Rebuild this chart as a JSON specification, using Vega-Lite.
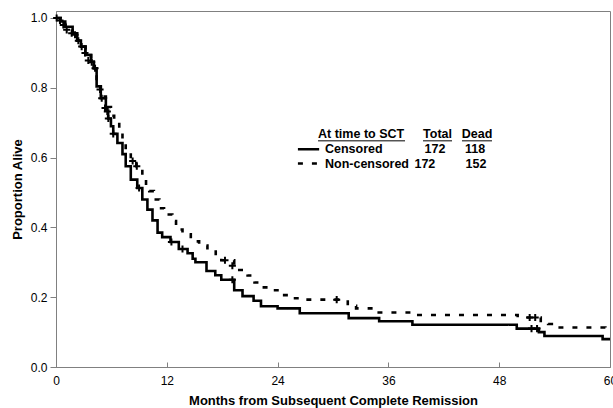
{
  "$schema": "https://vega.github.io/schema/vega-lite/v6.json",
  "width": 554,
  "height": 356,
  "autosize": {"type": "none"},
  "padding": {"left": 56, "top": 11, "right": 3, "bottom": 41},
  "background": "white",
  "config": {
    "font": "Liberation Sans",
    "view": {"stroke": "#808080", "strokeWidth": 1},
    "axis": {
      "grid": false,
      "domainColor": "#808080",
      "tickColor": "#808080",
      "labelColor": "black",
      "labelFontSize": 12,
      "titleFontSize": 13,
      "titleFontWeight": "bold",
      "titleColor": "black"
    }
  },
  "datasets": {
    "curves": [
      {"series": "Censored", "t": 0, "p": 1.0},
      {"series": "Censored", "t": 0.5, "p": 0.99},
      {"series": "Censored", "t": 1.0, "p": 0.975},
      {"series": "Censored", "t": 1.8, "p": 0.956},
      {"series": "Censored", "t": 2.3, "p": 0.935},
      {"series": "Censored", "t": 2.7, "p": 0.918},
      {"series": "Censored", "t": 3.2, "p": 0.894},
      {"series": "Censored", "t": 3.8, "p": 0.875},
      {"series": "Censored", "t": 4.1, "p": 0.856},
      {"series": "Censored", "t": 4.4, "p": 0.804},
      {"series": "Censored", "t": 4.85, "p": 0.77},
      {"series": "Censored", "t": 5.4, "p": 0.735},
      {"series": "Censored", "t": 5.65, "p": 0.712},
      {"series": "Censored", "t": 5.95, "p": 0.69},
      {"series": "Censored", "t": 6.2, "p": 0.668},
      {"series": "Censored", "t": 6.65, "p": 0.642},
      {"series": "Censored", "t": 7.2, "p": 0.61},
      {"series": "Censored", "t": 7.55, "p": 0.575},
      {"series": "Censored", "t": 8.1, "p": 0.537},
      {"series": "Censored", "t": 8.8, "p": 0.513},
      {"series": "Censored", "t": 9.35, "p": 0.48},
      {"series": "Censored", "t": 9.9, "p": 0.451},
      {"series": "Censored", "t": 10.45, "p": 0.42},
      {"series": "Censored", "t": 11.0, "p": 0.385},
      {"series": "Censored", "t": 11.5, "p": 0.372},
      {"series": "Censored", "t": 12.4, "p": 0.358},
      {"series": "Censored", "t": 13.3, "p": 0.338},
      {"series": "Censored", "t": 14.25, "p": 0.326},
      {"series": "Censored", "t": 14.8, "p": 0.31},
      {"series": "Censored", "t": 15.1, "p": 0.3},
      {"series": "Censored", "t": 16.3, "p": 0.275},
      {"series": "Censored", "t": 17.25, "p": 0.263},
      {"series": "Censored", "t": 17.9, "p": 0.25},
      {"series": "Censored", "t": 19.3, "p": 0.22},
      {"series": "Censored", "t": 20.2, "p": 0.203},
      {"series": "Censored", "t": 21.4, "p": 0.19},
      {"series": "Censored", "t": 22.2, "p": 0.174},
      {"series": "Censored", "t": 24.0, "p": 0.168},
      {"series": "Censored", "t": 26.4, "p": 0.154},
      {"series": "Censored", "t": 31.7, "p": 0.14},
      {"series": "Censored", "t": 35.0, "p": 0.131},
      {"series": "Censored", "t": 38.6, "p": 0.121},
      {"series": "Censored", "t": 49.9, "p": 0.11},
      {"series": "Censored", "t": 52.3, "p": 0.1},
      {"series": "Censored", "t": 52.9, "p": 0.089},
      {"series": "Censored", "t": 59.2, "p": 0.08},
      {"series": "Censored", "t": 60, "p": 0.08},
      {"series": "Non-censored", "t": 0, "p": 1.0},
      {"series": "Non-censored", "t": 0.5, "p": 0.99},
      {"series": "Non-censored", "t": 1.0, "p": 0.975},
      {"series": "Non-censored", "t": 1.8, "p": 0.956},
      {"series": "Non-censored", "t": 2.3, "p": 0.935},
      {"series": "Non-censored", "t": 2.7, "p": 0.918},
      {"series": "Non-censored", "t": 3.2, "p": 0.894},
      {"series": "Non-censored", "t": 3.8, "p": 0.875},
      {"series": "Non-censored", "t": 4.1, "p": 0.856},
      {"series": "Non-censored", "t": 4.4, "p": 0.81},
      {"series": "Non-censored", "t": 4.85, "p": 0.775},
      {"series": "Non-censored", "t": 5.4, "p": 0.745},
      {"series": "Non-censored", "t": 5.95, "p": 0.72},
      {"series": "Non-censored", "t": 6.3, "p": 0.7},
      {"series": "Non-censored", "t": 6.85, "p": 0.67},
      {"series": "Non-censored", "t": 7.2, "p": 0.647},
      {"series": "Non-censored", "t": 7.55, "p": 0.618},
      {"series": "Non-censored", "t": 8.1, "p": 0.59},
      {"series": "Non-censored", "t": 8.7, "p": 0.575},
      {"series": "Non-censored", "t": 9.35, "p": 0.551},
      {"series": "Non-censored", "t": 9.75, "p": 0.52},
      {"series": "Non-censored", "t": 10.1, "p": 0.504},
      {"series": "Non-censored", "t": 10.6, "p": 0.48},
      {"series": "Non-censored", "t": 11.2, "p": 0.455},
      {"series": "Non-censored", "t": 11.7, "p": 0.437},
      {"series": "Non-censored", "t": 12.6, "p": 0.418},
      {"series": "Non-censored", "t": 13.0, "p": 0.394},
      {"series": "Non-censored", "t": 13.7, "p": 0.38},
      {"series": "Non-censored", "t": 14.6, "p": 0.36},
      {"series": "Non-censored", "t": 15.5, "p": 0.348},
      {"series": "Non-censored", "t": 16.4, "p": 0.335},
      {"series": "Non-censored", "t": 17.3, "p": 0.32},
      {"series": "Non-censored", "t": 17.9, "p": 0.306},
      {"series": "Non-censored", "t": 19.3, "p": 0.29},
      {"series": "Non-censored", "t": 19.85, "p": 0.278},
      {"series": "Non-censored", "t": 20.75, "p": 0.262},
      {"series": "Non-censored", "t": 21.5, "p": 0.242},
      {"series": "Non-censored", "t": 22.2, "p": 0.228},
      {"series": "Non-censored", "t": 23.5, "p": 0.22},
      {"series": "Non-censored", "t": 24.5, "p": 0.206},
      {"series": "Non-censored", "t": 25.6, "p": 0.197},
      {"series": "Non-censored", "t": 26.6, "p": 0.193},
      {"series": "Non-censored", "t": 31.6, "p": 0.175},
      {"series": "Non-censored", "t": 32.5, "p": 0.168},
      {"series": "Non-censored", "t": 34.7, "p": 0.156},
      {"series": "Non-censored", "t": 38.8, "p": 0.149},
      {"series": "Non-censored", "t": 50.0, "p": 0.142},
      {"series": "Non-censored", "t": 52.5, "p": 0.132},
      {"series": "Non-censored", "t": 53.3, "p": 0.123},
      {"series": "Non-censored", "t": 53.7, "p": 0.113},
      {"series": "Non-censored", "t": 59.5, "p": 0.108},
      {"series": "Non-censored", "t": 60, "p": 0.108}
    ],
    "censor": [
      {"series": "Censored", "t": 0.07, "p": 1.0},
      {"series": "Censored", "t": 0.43, "p": 0.993},
      {"series": "Censored", "t": 0.79, "p": 0.98},
      {"series": "Censored", "t": 1.16, "p": 0.966},
      {"series": "Censored", "t": 1.7, "p": 0.956},
      {"series": "Censored", "t": 2.06, "p": 0.952},
      {"series": "Censored", "t": 2.42, "p": 0.935},
      {"series": "Censored", "t": 2.78, "p": 0.918},
      {"series": "Censored", "t": 3.14, "p": 0.9},
      {"series": "Censored", "t": 3.5, "p": 0.878},
      {"series": "Censored", "t": 3.87, "p": 0.873},
      {"series": "Censored", "t": 4.23, "p": 0.856},
      {"series": "Censored", "t": 4.77, "p": 0.795},
      {"series": "Censored", "t": 4.95, "p": 0.77},
      {"series": "Censored", "t": 5.31, "p": 0.742},
      {"series": "Censored", "t": 5.56, "p": 0.732},
      {"series": "Censored", "t": 5.67, "p": 0.712},
      {"series": "Censored", "t": 6.2, "p": 0.668},
      {"series": "Censored", "t": 9.0, "p": 0.513},
      {"series": "Censored", "t": 12.5, "p": 0.358},
      {"series": "Censored", "t": 13.7, "p": 0.338},
      {"series": "Censored", "t": 19.1, "p": 0.25},
      {"series": "Censored", "t": 51.5, "p": 0.11},
      {"series": "Censored", "t": 52.1, "p": 0.11},
      {"series": "Non-censored", "t": 8.3, "p": 0.59},
      {"series": "Non-censored", "t": 8.75, "p": 0.575},
      {"series": "Non-censored", "t": 18.3, "p": 0.306},
      {"series": "Non-censored", "t": 19.1, "p": 0.29},
      {"series": "Non-censored", "t": 30.4, "p": 0.193},
      {"series": "Non-censored", "t": 51.3, "p": 0.142},
      {"series": "Non-censored", "t": 51.9, "p": 0.142}
    ],
    "legendSample": [
      {"series": "Censored", "t": 26.2, "t2": 28.5, "p": 0.624},
      {"series": "Non-censored", "t": 26.2, "t2": 28.5, "p": 0.583}
    ],
    "underline": [
      {"t": 28.38, "t2": 37.8, "p": 0.648},
      {"t": 39.75, "t2": 42.89, "p": 0.648},
      {"t": 43.97, "t2": 47.22, "p": 0.648}
    ],
    "legendLabels": [
      {"t": 28.38, "p": 0.667, "label": "At time to SCT"},
      {"t": 29.13, "p": 0.624, "label": "Censored"},
      {"t": 29.13, "p": 0.583, "label": "Non-censored"}
    ],
    "legendNumbers": [
      {"t": 41.32, "p": 0.667, "label": "Total"},
      {"t": 45.6, "p": 0.667, "label": "Dead"},
      {"t": 41.05, "p": 0.624, "label": "172"},
      {"t": 45.38, "p": 0.624, "label": "118"},
      {"t": 39.95, "p": 0.583, "label": "172"},
      {"t": 45.49, "p": 0.583, "label": "152"}
    ]
  },
  "encoding": {
    "x": {
      "field": "t",
      "type": "quantitative",
      "scale": {"domain": [0, 60], "nice": false, "zero": false},
      "axis": {
        "values": [0, 12, 24, 36, 48, 60],
        "title": "Months from Subsequent Complete Remission",
        "tickSize": -5,
        "labelPadding": 13,
        "titlePadding": 8,
        "labelFlush": false
      }
    },
    "y": {
      "field": "p",
      "type": "quantitative",
      "scale": {"domain": [0, 1.02], "nice": false},
      "axis": {
        "values": [0, 0.2, 0.4, 0.6, 0.8, 1.0],
        "format": ".1f",
        "title": "Proportion Alive",
        "tickSize": 6,
        "labelPadding": 3,
        "titlePadding": 6,
        "labelFlush": false
      }
    }
  },
  "layer": [
    {
      "data": {"name": "curves"},
      "mark": {"type": "line", "interpolate": "step-after", "color": "black", "strokeWidth": 2.6},
      "encoding": {
        "detail": {"field": "series", "type": "nominal"},
        "strokeDash": {
          "field": "series",
          "type": "nominal",
          "scale": {"domain": ["Censored", "Non-censored"], "range": [[1, 0], [5, 9]]},
          "legend": null
        }
      }
    },
    {
      "data": {"name": "censor"},
      "mark": {"type": "point", "shape": "M-1,0H1M0,-1V1", "filled": false, "stroke": "black", "strokeWidth": 2, "size": 50, "opacity": 1}
    },
    {
      "data": {"name": "legendSample"},
      "mark": {"type": "rule", "color": "black", "strokeWidth": 2.6},
      "encoding": {
        "x2": {"field": "t2"},
        "strokeDash": {
          "field": "series",
          "type": "nominal",
          "scale": {"domain": ["Censored", "Non-censored"], "range": [[1, 0], [5, 9]]},
          "legend": null
        }
      }
    },
    {
      "data": {"name": "underline"},
      "mark": {"type": "rule", "color": "black", "strokeWidth": 1},
      "encoding": {"x2": {"field": "t2"}}
    },
    {
      "data": {"name": "legendLabels"},
      "mark": {"type": "text", "align": "left", "baseline": "middle", "fontWeight": "bold", "fontSize": 12.5, "color": "black"},
      "encoding": {"text": {"field": "label"}}
    },
    {
      "data": {"name": "legendNumbers"},
      "mark": {"type": "text", "align": "center", "baseline": "middle", "fontWeight": "bold", "fontSize": 12.5, "color": "black"},
      "encoding": {"text": {"field": "label"}}
    }
  ]
}
